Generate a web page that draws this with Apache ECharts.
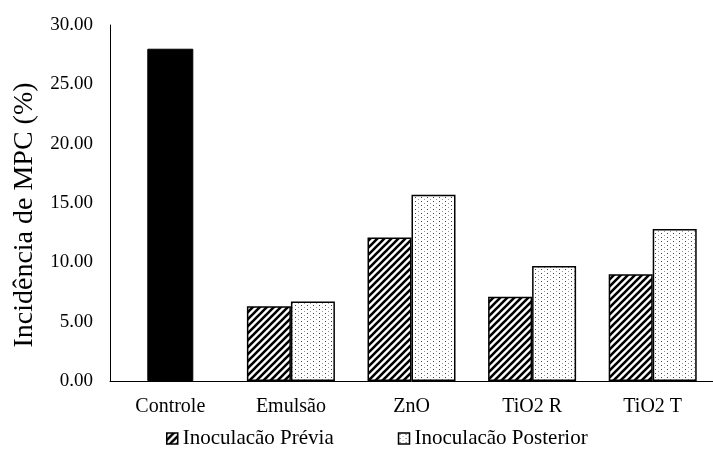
<!DOCTYPE html>
<html>
<head>
<meta charset="utf-8">
<script src="https://cdn.jsdelivr.net/npm/echarts@6/dist/echarts.min.js"></script>
<style>
  html, body { margin: 0; padding: 0; background: #fff; }
  #chart { width: 713px; height: 461px; }
</style>
</head>
<body>
<div id="chart"></div>
<script>
// Categories and values (%)
const categories = ['Controle', 'Emulsão', 'ZnO', 'TiO2 R', 'TiO2 T'];
const controleValues = [28.0, null, null, null, null];
const previaValues = [null, 6.3, 12.1, 7.1, 9.0];
const posteriorValues = [null, 6.7, 15.7, 9.7, 12.8];
const yTicks = [0, 5, 10, 15, 20, 25, 30];

const seriesNames = ['Inoculacão Prévia', 'Inoculacão Posterior'];
const FONT = 'Liberation Serif';

// Diagonal hatch fill
function hatchPattern() {
  const s = 7;
  const c = document.createElement('canvas');
  c.width = s; c.height = s;
  const g = c.getContext('2d');
  g.fillStyle = '#fff';
  g.fillRect(0, 0, s, s);
  g.strokeStyle = '#000';
  g.lineWidth = 2.6;
  g.beginPath();
  g.moveTo(-1, s + 1); g.lineTo(s + 1, -1);
  g.moveTo(-1, 1); g.lineTo(1, -1);
  g.moveTo(s - 1, s + 1); g.lineTo(s + 1, s - 1);
  g.stroke();
  return c;
}

// Sparse dot fill
function dotPattern() {
  const c = document.createElement('canvas');
  c.width = 6; c.height = 8;
  const g = c.getContext('2d');
  g.fillStyle = '#fff';
  g.fillRect(0, 0, 6, 8);
  g.fillStyle = '#444';
  g.fillRect(1, 1, 1, 1);
  g.fillRect(1, 5, 1, 1);
  g.fillStyle = '#999';
  g.fillRect(4, 3, 1, 1);
  g.fillRect(4, 7, 1, 1);
  return c;
}

const chart = echarts.init(document.getElementById('chart'), null, { renderer: 'canvas' });

const option = {
  animation: false,
  backgroundColor: '#fff',
  textStyle: { fontFamily: FONT, color: '#000' },
  grid: { left: 110, top: 25, width: 612, height: 356, containLabel: false },
  legend: {
    data: seriesNames,
    icon: 'rect',
    left: 166,
    top: 428,
    padding: 0,
    itemWidth: 11,
    itemHeight: 11,
    itemGap: 64,
    itemStyle: { borderColor: '#000', borderWidth: 1.5 },
    textStyle: { fontFamily: FONT, fontSize: 21, color: '#000' },
    selectedMode: false
  },
  xAxis: [
    {
      type: 'category',
      data: categories,
      axisLine: { show: true, lineStyle: { color: '#000', width: 1 } },
      axisTick: { show: false },
      axisLabel: { fontFamily: FONT, fontSize: 20, color: '#000', margin: 16 },
      splitLine: { show: false }
    },
    {
      type: 'category',
      data: categories,
      show: false
    }
  ],
  yAxis: {
    type: 'value',
    min: 0,
    max: 30,
    interval: 5,
    axisLine: { show: true, lineStyle: { color: '#000', width: 1 } },
    axisTick: { show: false },
    splitLine: { show: false },
    axisLabel: {
      fontFamily: FONT, fontSize: 19, color: '#000', margin: 17,
      formatter: v => yTicks.includes(v) ? v.toFixed(2) : ''
    }
  },
  graphic: [{
    type: 'text',
    x: 25,
    y: 215,
    rotation: Math.PI / 2,
    style: {
      text: 'Incidência de MPC (%)',
      fontFamily: FONT,
      fontSize: 28,
      fill: '#000',
      align: 'center',
      verticalAlign: 'middle'
    }
  }],
  series: [
    {
      name: 'Controle',
      type: 'bar',
      xAxisIndex: 1,
      data: controleValues,
      barWidth: 46,
      itemStyle: { color: '#000', borderColor: '#000', borderWidth: 1 }
    },
    {
      name: seriesNames[0],
      type: 'bar',
      xAxisIndex: 0,
      data: previaValues,
      barWidth: 44,
      barGap: '0%',
      itemStyle: {
        color: { image: hatchPattern(), repeat: 'repeat' },
        borderColor: '#000',
        borderWidth: 1.5
      }
    },
    {
      name: seriesNames[1],
      type: 'bar',
      xAxisIndex: 0,
      data: posteriorValues,
      barWidth: 44,
      barGap: '0%',
      itemStyle: {
        color: { image: dotPattern(), repeat: 'repeat' },
        borderColor: '#000',
        borderWidth: 1.5
      }
    }
  ]
};

chart.setOption(option);
</script>
</body>
</html>
